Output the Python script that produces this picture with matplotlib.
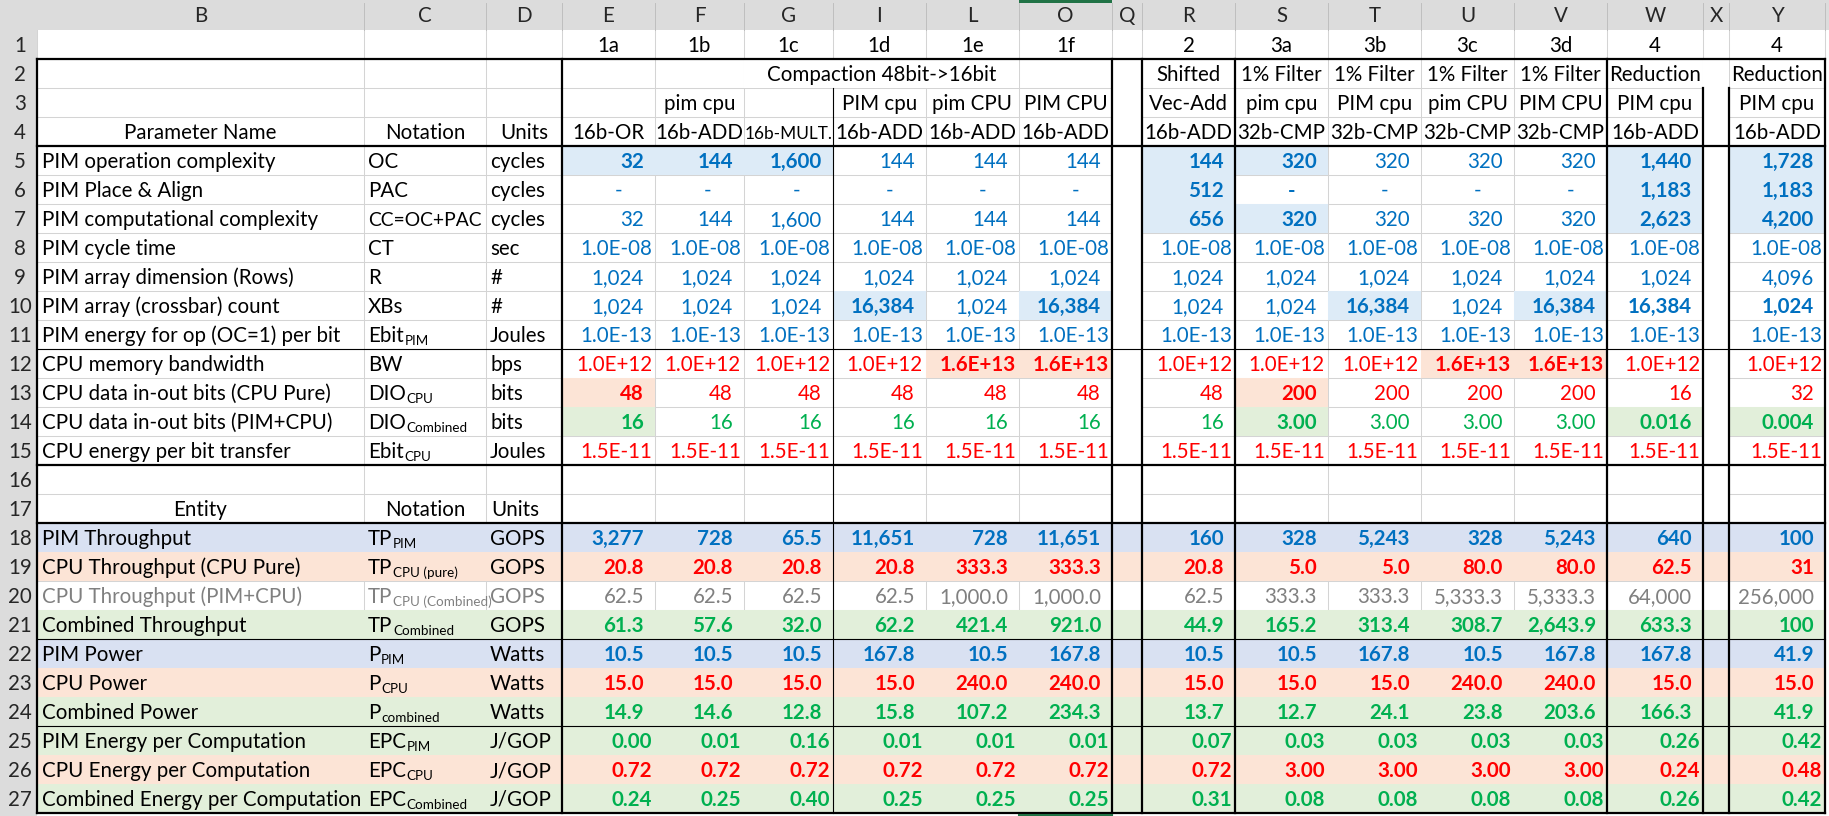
import matplotlib.pyplot as plt
from matplotlib.patches import Rectangle

plt.rcParams['font.family'] = 'Lato'

# ---------------- data (as shown in the sheet) ----------------
col_letters = ['B', 'C', 'D', 'E', 'F', 'G', 'I', 'L', 'O', 'Q', 'R', 'S', 'T', 'U', 'V', 'W', 'X', 'Y']
data_cols = ['E', 'F', 'G', 'I', 'L', 'O', 'R', 'S', 'T', 'U', 'V', 'W', 'Y']

case_ids = ['1a', '1b', '1c', '1d', '1e', '1f', '2', '3a', '3b', '3c', '3d', '4', '4']
group_names = ['', '', '', '', '', '', 'Shifted', '1% Filter', '1% Filter', '1% Filter', '1% Filter', 'Reduction', 'Reduction']
compaction_title = 'Compaction 48bit->16bit'
placement = ['', 'pim cpu', '', 'PIM cpu', 'pim CPU', 'PIM CPU', 'Vec-Add', 'pim cpu', 'PIM cpu', 'pim CPU', 'PIM CPU', 'PIM cpu', 'PIM cpu']
op_names = ['16b-OR', '16b-ADD', '16b-MULT.', '16b-ADD', '16b-ADD', '16b-ADD', '16b-ADD',
            '32b-CMP', '32b-CMP', '32b-CMP', '32b-CMP', '16b-ADD', '16b-ADD']

param_names = ['PIM operation complexity', 'PIM Place & Align', 'PIM computational complexity',
               'PIM cycle time', 'PIM array dimension (Rows)', 'PIM array (crossbar) count',
               'PIM energy for op (OC=1) per bit', 'CPU memory bandwidth',
               'CPU data in-out bits (CPU Pure)', 'CPU data in-out bits (PIM+CPU)',
               'CPU energy per bit transfer']
# "base_sub" -> base text with subscript
param_notation = ['OC', 'PAC', 'CC=OC+PAC', 'CT', 'R', 'XBs', 'Ebit_PIM', 'BW',
                  'DIO_CPU', 'DIO_Combined', 'Ebit_CPU']
param_units = ['cycles', 'cycles', 'cycles', 'sec', '#', '#', 'Joules', 'bps', 'bits', 'bits', 'Joules']

oc = ['32', '144', '1,600', '144', '144', '144', '144', '320', '320', '320', '320', '1,440', '1,728']
pac = ['-', '-', '-', '-', '-', '-', '512', '-', '-', '-', '-', '1,183', '1,183']
cc = ['32', '144', '1,600', '144', '144', '144', '656', '320', '320', '320', '320', '2,623', '4,200']
ct = ['1.0E-08'] * 13
rows_dim = ['1,024'] * 12 + ['4,096']
xbs = ['1,024', '1,024', '1,024', '16,384', '1,024', '16,384', '1,024', '1,024', '16,384', '1,024',
       '16,384', '16,384', '1,024']
ebit_pim = ['1.0E-13'] * 13
bw = ['1.0E+12', '1.0E+12', '1.0E+12', '1.0E+12', '1.6E+13', '1.6E+13', '1.0E+12', '1.0E+12',
      '1.0E+12', '1.6E+13', '1.6E+13', '1.0E+12', '1.0E+12']
dio_cpu = ['48', '48', '48', '48', '48', '48', '48', '200', '200', '200', '200', '16', '32']
dio_comb = ['16', '16', '16', '16', '16', '16', '16', '3.00', '3.00', '3.00', '3.00', '0.016', '0.004']
ebit_cpu = ['1.5E-11'] * 13
param_values = [oc, pac, cc, ct, rows_dim, xbs, ebit_pim, bw, dio_cpu, dio_comb, ebit_cpu]

entity_names = ['PIM Throughput', 'CPU Throughput (CPU Pure)', 'CPU Throughput (PIM+CPU)',
                'Combined Throughput', 'PIM Power', 'CPU Power', 'Combined Power',
                'PIM Energy per Computation', 'CPU Energy per Computation',
                'Combined Energy per Computation']
entity_notation = ['TP_PIM', 'TP_CPU (pure)', 'TP_CPU (Combined)', 'TP_Combined', 'P_PIM', 'P_CPU',
                   'P_combined', 'EPC_PIM', 'EPC_CPU', 'EPC_Combined']
entity_units = ['GOPS', 'GOPS', 'GOPS', 'GOPS', 'Watts', 'Watts', 'Watts', 'J/GOP', 'J/GOP', 'J/GOP']

tp_pim = ['3,277', '728', '65.5', '11,651', '728', '11,651', '160', '328', '5,243', '328', '5,243', '640', '100']
tp_cpu_pure = ['20.8', '20.8', '20.8', '20.8', '333.3', '333.3', '20.8', '5.0', '5.0', '80.0', '80.0', '62.5', '31']
tp_cpu_comb = ['62.5', '62.5', '62.5', '62.5', '1,000.0', '1,000.0', '62.5', '333.3', '333.3', '5,333.3',
               '5,333.3', '64,000', '256,000']
tp_comb = ['61.3', '57.6', '32.0', '62.2', '421.4', '921.0', '44.9', '165.2', '313.4', '308.7', '2,643.9',
           '633.3', '100']
p_pim = ['10.5', '10.5', '10.5', '167.8', '10.5', '167.8', '10.5', '10.5', '167.8', '10.5', '167.8', '167.8', '41.9']
p_cpu = ['15.0', '15.0', '15.0', '15.0', '240.0', '240.0', '15.0', '15.0', '15.0', '240.0', '240.0', '15.0', '15.0']
p_comb = ['14.9', '14.6', '12.8', '15.8', '107.2', '234.3', '13.7', '12.7', '24.1', '23.8', '203.6', '166.3', '41.9']
epc_pim = ['0.00', '0.01', '0.16', '0.01', '0.01', '0.01', '0.07', '0.03', '0.03', '0.03', '0.03', '0.26', '0.42']
epc_cpu = ['0.72', '0.72', '0.72', '0.72', '0.72', '0.72', '0.72', '3.00', '3.00', '3.00', '3.00', '0.24', '0.48']
epc_comb = ['0.24', '0.25', '0.40', '0.25', '0.25', '0.25', '0.31', '0.08', '0.08', '0.08', '0.08', '0.26', '0.42']
entity_values = [tp_pim, tp_cpu_pure, tp_cpu_comb, tp_comb, p_pim, p_cpu, p_comb, epc_pim, epc_cpu, epc_comb]

# ---------------- styles ----------------
BLUE, RED, GREEN, GREY = '#0070C0', '#FF0000', '#00B050', '#808080'
F_BLUE, F_LAV, F_SALMON, F_GREEN = '#DDEBF7', '#D9E1F2', '#FCE4D6', '#E2EFDA'

param_colors = [BLUE] * 7 + [RED, RED, GREEN, RED]
entity_colors = [BLUE, RED, GREY, GREEN, BLUE, RED, GREEN, GREEN, RED, GREEN]
entity_fills = [F_LAV, F_SALMON, None, F_GREEN, F_LAV, F_SALMON, F_GREEN, F_GREEN, F_SALMON, F_GREEN]
small_pad_rows = {8, 11, 12, 15, 25, 26, 27}

cell_fill = {}
for c in ['E', 'F', 'G', 'R', 'S', 'W', 'Y']:
    cell_fill[(5, c)] = F_BLUE
for c in ['R', 'W', 'Y']:
    cell_fill[(6, c)] = F_BLUE
for c in ['R', 'S', 'W', 'Y']:
    cell_fill[(7, c)] = F_BLUE
for c in ['I', 'O', 'T', 'V']:
    cell_fill[(10, c)] = F_BLUE
for c in ['L', 'O', 'U', 'V']:
    cell_fill[(12, c)] = F_SALMON
cell_fill[(13, 'E')] = F_SALMON
cell_fill[(13, 'S')] = F_SALMON
for c in ['E', 'S', 'W', 'Y']:
    cell_fill[(14, c)] = F_GREEN
bold_cells = set(cell_fill) | {(6, 'S'), (10, 'W'), (10, 'Y')}

# ---------------- geometry ----------------
W, H = 1829, 816
edges = [37, 364, 486, 562, 655, 744, 833, 926, 1019, 1112, 1142, 1235, 1328, 1421, 1514, 1607, 1703, 1729, 1825]
left = dict(zip(col_letters, edges[:-1]))
right = dict(zip(col_letters, edges[1:]))
HDR, RH = 30, 29


def top(r):
    return HDR + RH * (r - 1)


def bot(r):
    return HDR + RH * r


fig = plt.figure(figsize=(W / 100, H / 100), dpi=100)
ax = fig.add_axes([0, 0, 1, 1])
ax.set_xlim(0, W)
ax.set_ylim(H, 0)
ax.axis('off')

# font size from label widths measured on the sheet
rend = fig.canvas.get_renderer()
fits = []
for s, px in [('PIM operation complexity', 234), ('Combined Energy per Computation', 320)]:
    probe = ax.text(0, 0, s, fontsize=10)
    fits.append(10 * px / probe.get_window_extent(rend).width)
    probe.remove()
FS = sum(fits) / len(fits)


def clip_to(t, r, clip):
    t.set_clip_path(Rectangle((clip[0], top(r)), clip[1] - clip[0], RH, transform=ax.transData))


def put(txt, x, r, ha='left', color='black', bold=False, clip=None, maxw=None):
    t = ax.text(x, bot(r) - 7, txt, ha=ha, va='baseline', color=color, fontsize=FS,
                fontweight='bold' if bold else 'normal', zorder=5)
    if maxw is not None and txt:
        w = t.get_window_extent(rend).width
        if w > maxw:
            t.set_fontsize(FS * maxw / w)
    if clip is not None:
        clip_to(t, r, clip)
    return t


def put_sub(txt, x, r, color='black', clip=None, maxw=None):
    base, _, sub = txt.partition('_')
    t = put(base, x, r, color=color, clip=clip, maxw=maxw)
    if sub:
        w = t.get_window_extent(rend).width
        s = ax.text(x + w + 0.5, bot(r) - 4, sub, ha='left', va='baseline', color=color,
                    fontsize=FS * 0.66, zorder=5)
        if clip is not None:
            clip_to(s, r, clip)


def fill(x0, x1, y0, y1, color, z=2):
    ax.add_patch(Rectangle((x0, y0), x1 - x0, y1 - y0, facecolor=color, edgecolor='none', zorder=z))


# sheet headers
fill(0, W, 0, HDR, '#DCDCDC', 3)
fill(0, 37, 0, H, '#DCDCDC', 3)
for c in col_letters:
    ax.text((left[c] + right[c]) / 2, HDR - 8, c, ha='center', va='baseline', fontsize=FS,
            color='#262626', zorder=5)
    ax.plot([right[c], right[c]], [3, HDR], color='#BFBFBF', lw=0.7, zorder=4)
for r in range(1, 28):
    ax.text(20, bot(r) - 7, str(r), ha='center', va='baseline', fontsize=FS, color='#262626', zorder=5)
fill(1019, 1112, 0, 2.5, '#217346', 6)

# gridlines
for r in range(1, 28):
    ax.plot([37, 1825], [bot(r), bot(r)], color='#D4D4D4', lw=0.75, zorder=1)
for x in edges:
    ax.plot([x, x], [HDR, bot(27)], color='#D4D4D4', lw=0.75, zorder=1)

# blank areas without gridlines
fill(left['G'], right['L'], top(2), bot(2), 'white')
for c in ['Q', 'X']:
    fill(left[c], right[c], top(2), bot(17), 'white')

# row fills (entity block) and single cell fills
for i, f in enumerate(entity_fills):
    if f:
        fill(37, 1825, top(18 + i), bot(18 + i), f)
for (r, c), f in cell_fill.items():
    fill(left[c], right[c], top(r), bot(r), f)

# header texts
for c, a, g, p, o in zip(data_cols, case_ids, group_names, placement, op_names):
    xc = (left[c] + right[c]) / 2
    cw = right[c] - left[c]
    put(a, xc, 1, 'center')
    put(g, xc, 2, 'center', maxw=cw - 4)
    put(p, xc, 3, 'center', maxw=cw - 4)
    put(o, xc, 4, 'center', maxw=cw - 1)
put(compaction_title, (left['G'] + right['L']) / 2, 2, 'center', maxw=250)
for r, t in [(4, 'Parameter Name'), (17, 'Entity')]:
    put(t, (left['B'] + right['B']) / 2, r, 'center')
    put('Notation', (left['C'] + right['C']) / 2, r, 'center')
put('Units', (left['D'] + right['D']) / 2, 4, 'center')
put('Units', left['D'] + 5, 17)


def value_row(r, vals, color, bold_row=False):
    for c, v in zip(data_cols, vals):
        b = bold_row or (r, c) in bold_cells
        if v == '-':
            put(v, right[c] - 36, r, 'center', color, b)
        else:
            pad = 3 if r in small_pad_rows else 11
            put(v, right[c] - pad, r, 'right', color, b, maxw=right[c] - left[c] - pad - 3)


for i in range(len(param_names)):
    r = 5 + i
    put(param_names[i], left['B'] + 5, r)
    put_sub(param_notation[i], left['C'] + 4, r, maxw=right['C'] - left['C'] - 8)
    put(param_units[i], left['D'] + 4, r)
    value_row(r, param_values[i], param_colors[i])

for i in range(len(entity_names)):
    r = 18 + i
    lc = GREY if r == 20 else 'black'
    put(entity_names[i], left['B'] + 5, r, color=lc)
    put_sub(entity_notation[i], left['C'] + 4, r, color=lc, clip=(left['C'], right['C'] - 1))
    put(entity_units[i], left['D'] + 4, r, color=lc)
    value_row(r, entity_values[i], entity_colors[i], bold_row=(r != 20))

# black borders
THICK, THIN = 1.6, 0.8
for y, lw in [(bot(1), THICK), (bot(4), THICK), (bot(11), THIN), (bot(15), THICK), (bot(17), THICK),
              (bot(21), THIN), (bot(24), THIN), (bot(27), THICK)]:
    ax.plot([37, 1825], [y, y], color='black', lw=lw, solid_capstyle='projecting', zorder=6)
for x in [37, 562, 1112, 1142, 1235, 1607, 1825]:
    ax.plot([x, x], [bot(1), bot(27)], color='black', lw=THICK, solid_capstyle='projecting', zorder=6)
for x in [1703, 1729]:
    ax.plot([x, x], [top(3), bot(27)], color='black', lw=THICK, zorder=6)
ax.plot([833, 833], [top(3), bot(27)], color='black', lw=THIN, zorder=6)
ax.plot([1019, 1112], [bot(27) + 1.5, bot(27) + 1.5], color='#217346', lw=1.5, zorder=7)

fig.savefig('out.png', dpi=100)
